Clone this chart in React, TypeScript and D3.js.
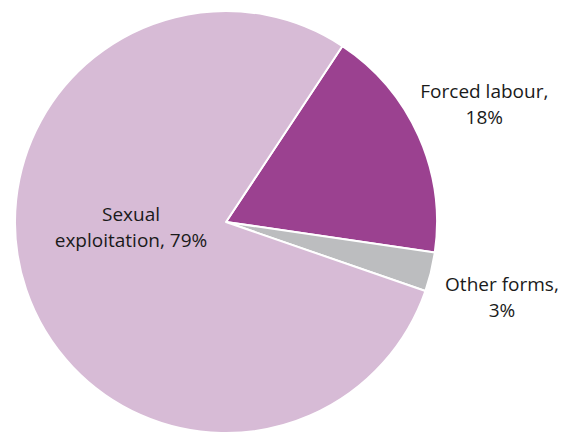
import React, { useRef, useEffect } from "react";
import * as d3 from "d3";

// data
const categories = ["Forced labour", "Other forms", "Sexual exploitation"];
const shares = [18, 3, 79];
const labelLines = [
  ["Forced labour,", "18%"],
  ["Other forms,", "3%"],
  ["Sexual", "exploitation, 79%"],
];
const colors = ["#9b4190", "#bcbdbf", "#d7bbd6"];

const width = 562;
const height = 434;

export default function App() {
  const ref = useRef<SVGSVGElement>(null);

  useEffect(() => {
    const svg = d3.select(ref.current);
    svg.selectAll("*").remove();

    const cx = 226;
    const cy = 222;
    const r = 211;
    const start = (33.5 * Math.PI) / 180;

    const pie = d3
      .pie<number>()
      .sort(null)
      .value((d) => d)
      .startAngle(start)
      .endAngle(start + 2 * Math.PI);

    const arcs = pie(shares);
    const arc = d3.arc<d3.PieArcDatum<number>>().innerRadius(0).outerRadius(r);

    const g = svg.append("g").attr("transform", `translate(${cx},${cy})`);

    g.selectAll("path")
      .data(arcs)
      .enter()
      .append("path")
      .attr("d", arc)
      .attr("fill", (_, i) => colors[i])
      .attr("stroke", "#fff")
      .attr("stroke-width", 2)
      .attr("stroke-linejoin", "round");

    // ラベル（外側2つ、内側1つ）
    const outer = d3.arc<d3.PieArcDatum<number>>().innerRadius(283).outerRadius(283);
    const inner = d3.arc<d3.PieArcDatum<number>>().innerRadius(85).outerRadius(85);
    const nudge = [
      [0, -8],
      [1, 2],
      [-14.5, -28],
    ];

    arcs.forEach((a, i) => {
      const [px, py] = i === 2 ? inner.centroid(a) : outer.centroid(a);
      const x = px + nudge[i][0];
      const y = py + nudge[i][1];
      const t = g
        .append("text")
        .attr("x", x)
        .attr("y", y)
        .attr("text-anchor", "middle")
        .attr("font-family", "'Open Sans', 'Noto Sans', sans-serif")
        .attr("font-size", 19)
        .attr("fill", "#1a1a1a");
      labelLines[i].forEach((line, j) => {
        t.append("tspan")
          .attr("x", x)
          .attr("dy", j === 0 ? 0 : 26)
          .text(line);
      });
    });
  }, []);

  return (
    <svg
      ref={ref}
      width={width}
      height={height}
      style={{ position: "absolute", left: 0, top: 0, background: "#fff" }}
    />
  );
}
